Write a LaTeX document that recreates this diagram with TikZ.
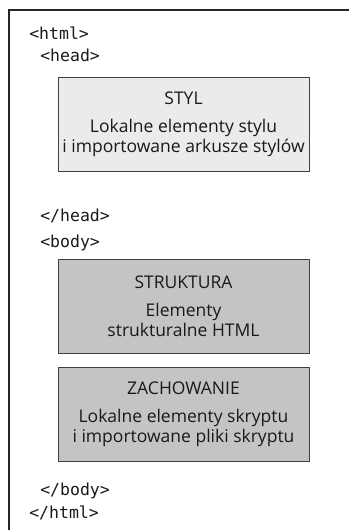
\documentclass[tikz,border=0pt]{standalone}
\usepackage{fontspec}
\setsansfont{Open Sans}
\setmonofont{DejaVu Sans Mono}
\usetikzlibrary{positioning}

\begin{document}
\begin{tikzpicture}[x=1pt, y=-1pt, semithick,
    box/.style={draw=black!75, rectangle, minimum width=251pt, minimum height=94pt, inner sep=0pt, align=center, text=black!90, font=\sffamily\fontsize{17.5}{20}\selectfont},
    tag/.style={anchor=base west, inner sep=0pt, text=black!90, font=\ttfamily\fontsize{16.5}{20}\selectfont}]
    \useasboundingbox (0,0) rectangle (349,530);
    \draw[line width=1.5pt, black!85] (9,530) -- (9,10) -- (349,10);

    \node[tag](html) at (29,39) {<html>};
    \node[tag](head) at (40,61) {<head>};
    \node[box, fill=black!8](styl) at (183.5,124) {STYL\\[8pt]Lokalne elementy stylu\\i importowane arkusze stylów};
    \node[tag](headend) at (40,221) {</head>};
    \node[tag](body) at (40,247) {<body>};
    \node[box, fill=black!23](struktura) at (183.5,306.5) {STRUKTURA\\[8pt]Elementy\\strukturalne HTML};
    \node[box, fill=black!23, below=13pt of struktura](zachowanie) {ZACHOWANIE\\[8pt]Lokalne elementy skryptu\\i importowane pliki skryptu};
    \node[tag](bodyend) at (40,495) {</body>};
    \node[tag](htmlend) at (29,518) {</html>};
\end{tikzpicture}
\end{document}
